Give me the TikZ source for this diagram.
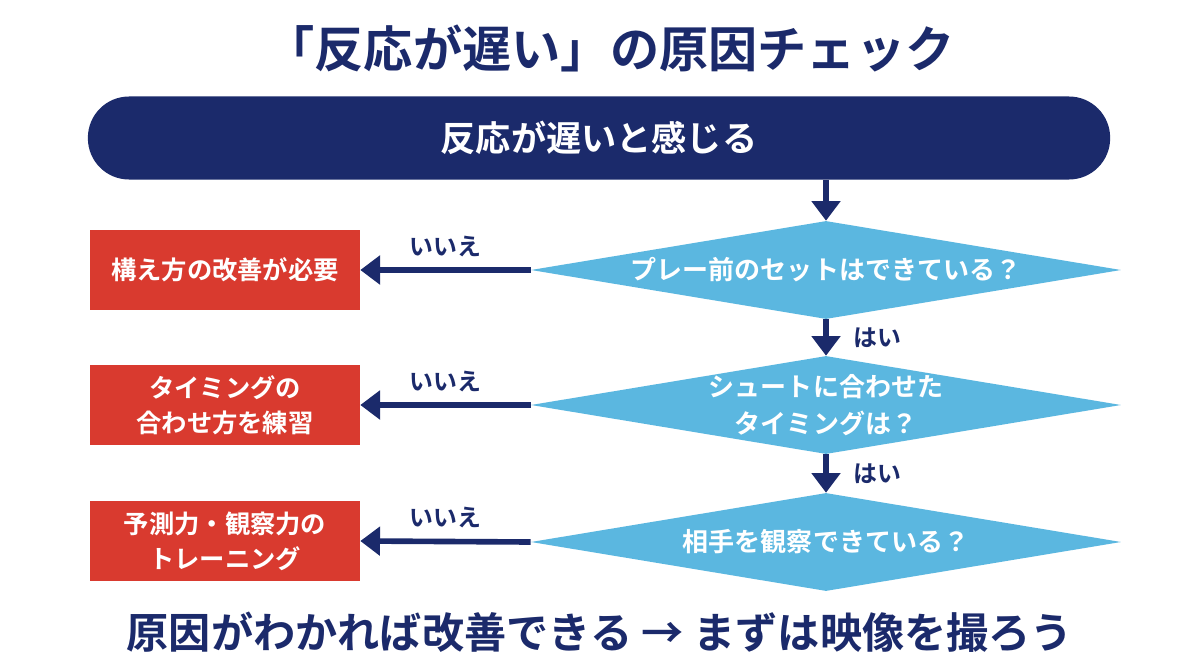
\documentclass[tikz,border=0pt]{standalone}
\usepackage{fontspec}
\setmainfont{Noto Sans CJK JP Bold}
\usetikzlibrary{shapes.geometric,arrows.meta}
\definecolor{navy}{HTML}{1B2A6B}
\definecolor{sky}{HTML}{5BB7E0}
\definecolor{brick}{HTML}{D93A2F}
\tikzset{
  dia/.style={diamond,fill=sky,inner sep=0pt,minimum width=14.75cm,minimum height=2.45cm},
  nobox/.style={rectangle,fill=brick,text=white,minimum width=6.75cm,minimum height=2cm,align=center,font=\fontsize{18}{25}\selectfont},
  lbl/.style={text=white,align=center,font=\fontsize{18.5}{26}\selectfont},
  arr/.style={navy,line width=4pt,-{Triangle[length=14pt,width=20pt]}},
  ans/.style={text=navy,font=\fontsize{17}{19}\selectfont}
}
\begin{document}
\begin{tikzpicture}[x=0.025cm,y=-0.025cm]
	\useasboundingbox[fill=white] (0,0) rectangle (1200,669);
	\node[text=navy,font=\fontsize{35}{38}\selectfont] (title) at (610,48) {「反応が遅い」の原因チェック};
	\node[fill=navy,text=white,rounded corners=1.03cm,minimum width=25.55cm,minimum height=2.075cm,font=\fontsize{25}{28}\selectfont] (bar) at (599,138) {反応が遅いと感じる};
	% questions
	\node[dia] (d1) at (826,270) {};
	\node[lbl] (q1) at (d1) {プレー前のセットはできている？};
	\node[dia] (d2) at (826,405) {};
	\node[lbl] (q2) at (d2) {シュートに合わせた\\タイミングは？};
	\node[dia] (d3) at (826,542) {};
	\node[lbl] (q3) at (d3) {相手を観察できている？};
	% answers
	\node[nobox] (r1) at (225,270) {構え方の改善が必要};
	\node[nobox] (r2) at (225,405) {タイミングの\\合わせ方を練習};
	\node[nobox] (r3) at (225,541) {予測力・観察力の\\トレーニング};
	% arrows
	\draw[arr] (d1 |- bar.south) -- (d1.north);
	\draw[arr] (d1.south) -- node[ans,right=14pt] {はい} (d2.north);
	\draw[arr] (d2.south) -- node[ans,right=14pt] {はい} (d3.north);
	\draw[arr] (d1.west) -- node[ans,above=4pt] {いいえ} (r1.east);
	\draw[arr] (d2.west) -- node[ans,above=4pt] {いいえ} (r2.east);
	\draw[arr] (d3.west) -- node[ans,above=4pt] {いいえ} (r3.east);
	\node[text=navy,font=\fontsize{30}{33}\selectfont] (foot) at (600,632) {原因がわかれば改善できる → まずは映像を撮ろう};
\end{tikzpicture}
\end{document}
